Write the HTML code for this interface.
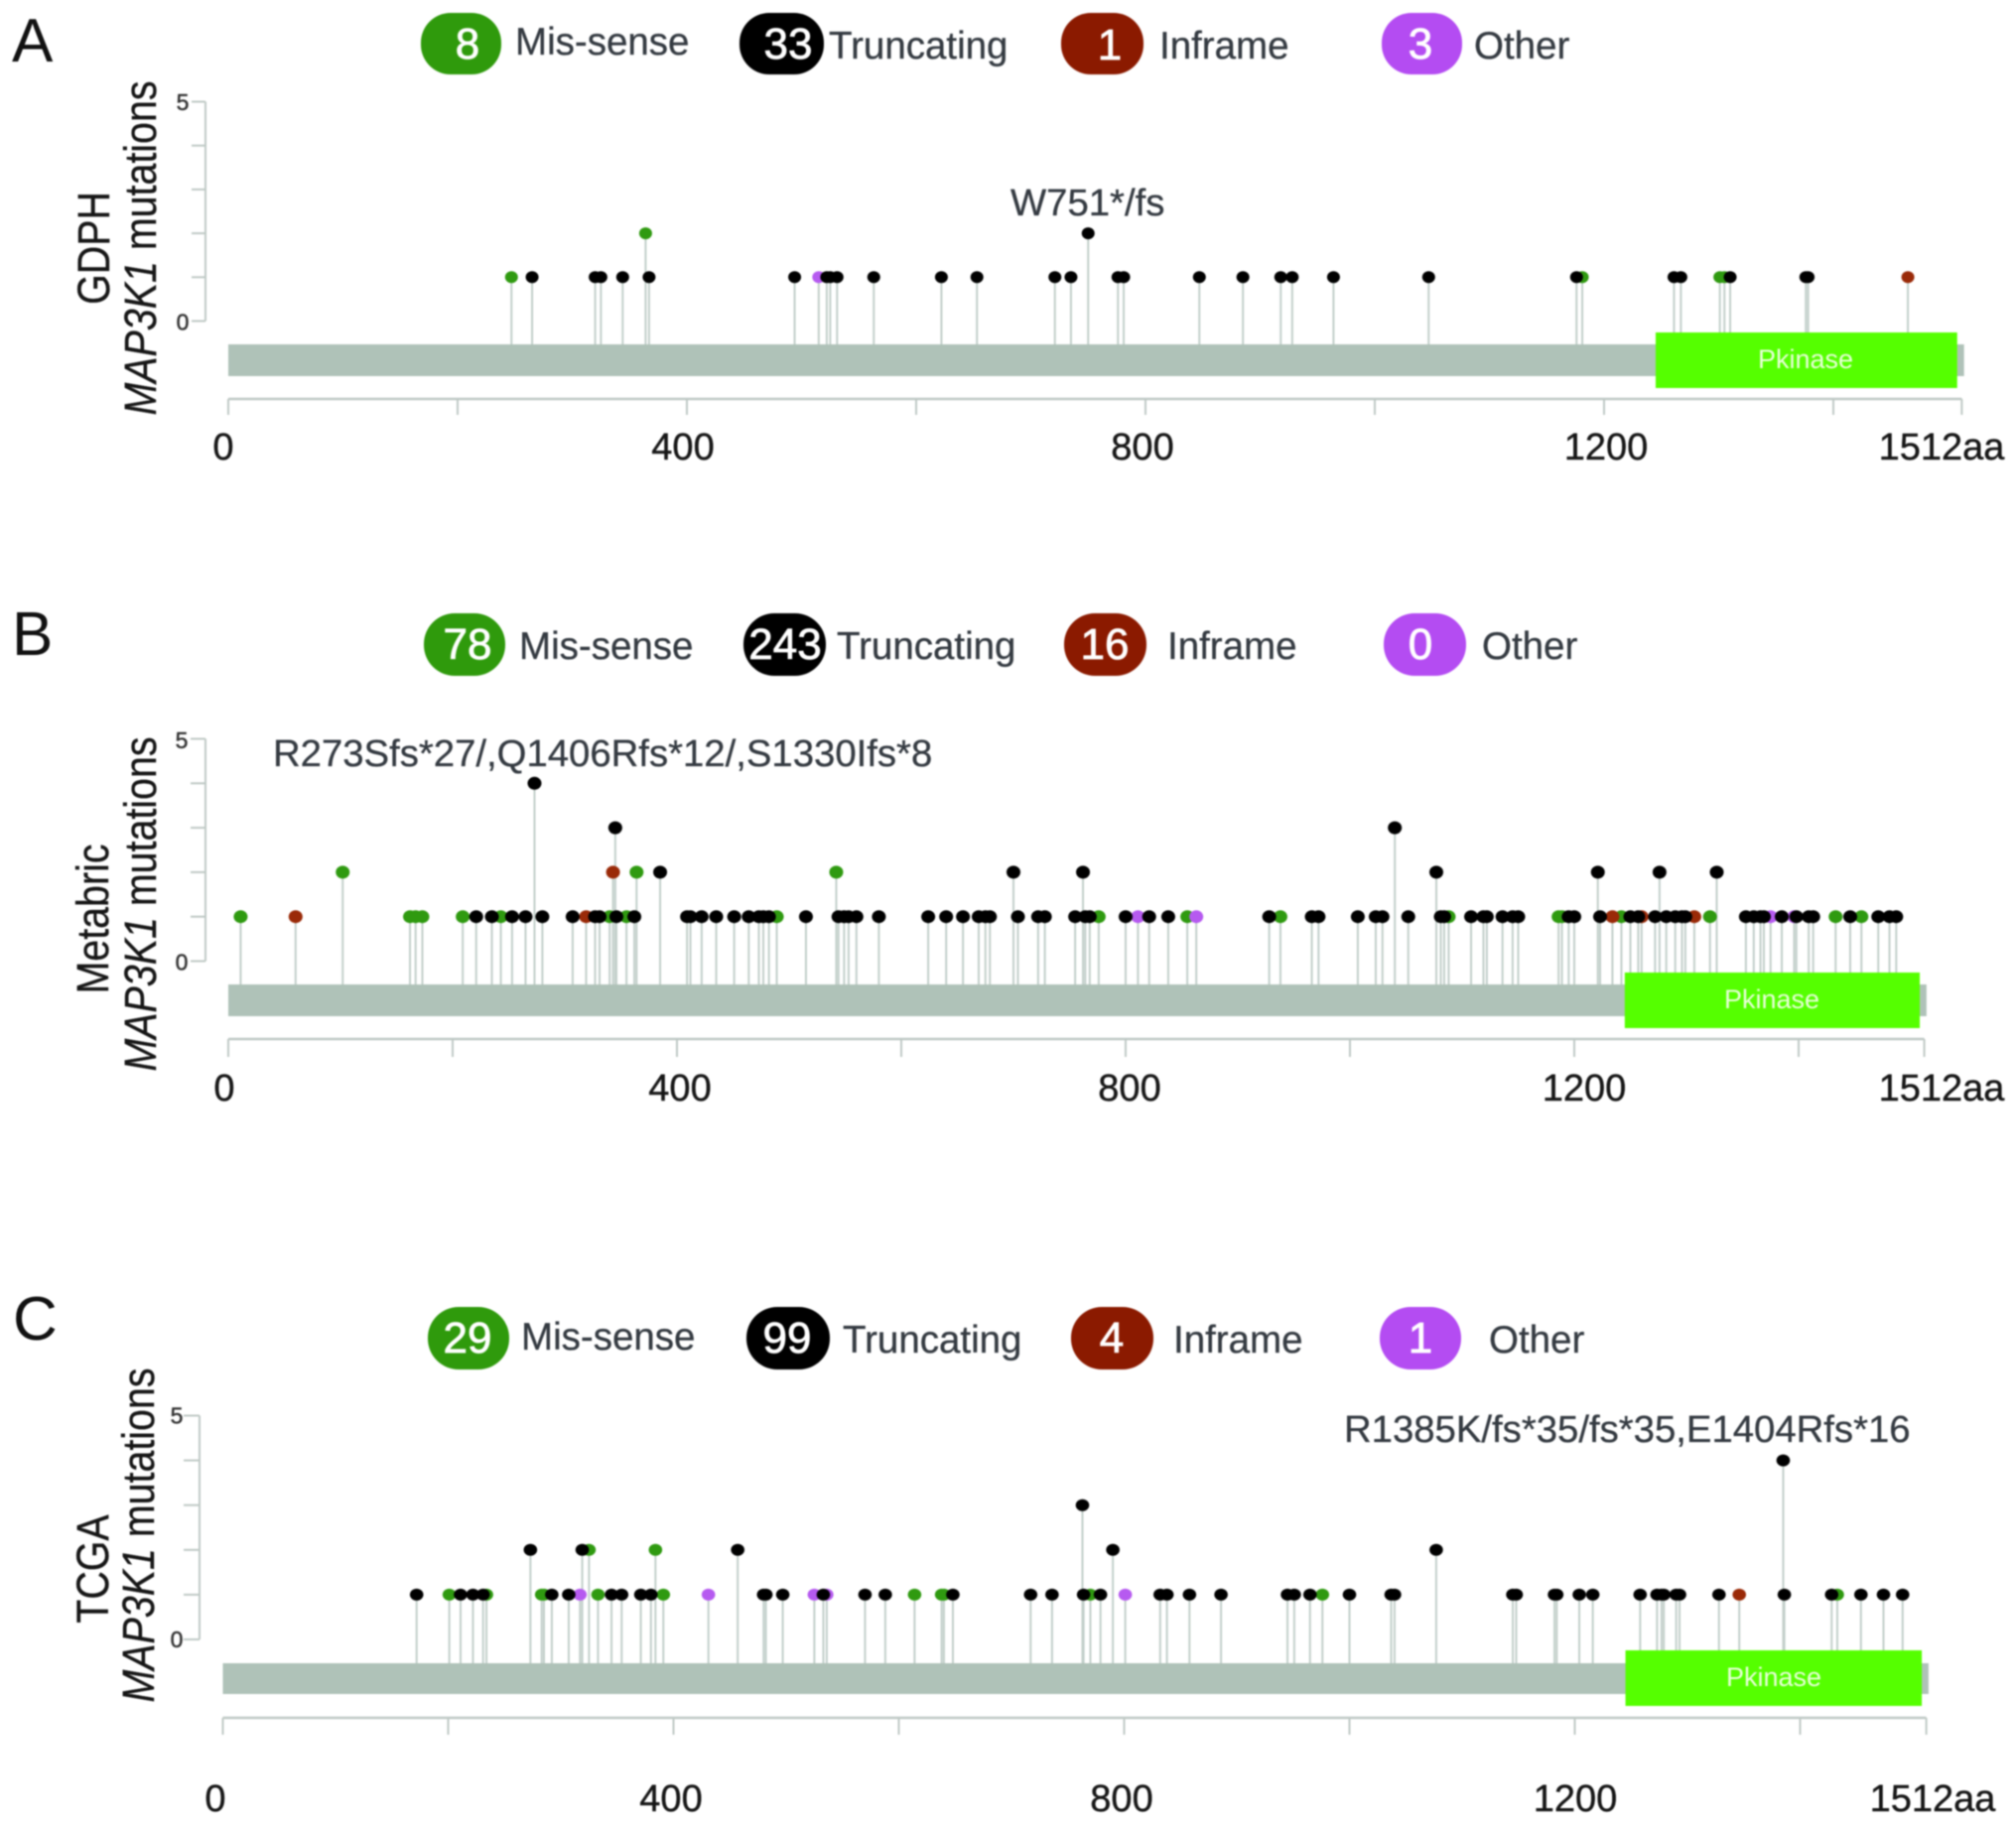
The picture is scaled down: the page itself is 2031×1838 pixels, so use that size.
<!DOCTYPE html>
<html lang="en">
<head>
<meta charset="utf-8">
<title>MAP3K1 mutation lollipop plots</title>
<style>
  html, body { margin: 0; padding: 0; background: #ffffff; }
  svg { display: block; font-family: "Liberation Sans", sans-serif; filter: blur(0.7px); }
  .legend-text { font-size: 38.5px; fill: #343a41; stroke: #343a41; stroke-width: 0.3px; }
  .pill-text { font-size: 44px; fill: #ffffff; text-anchor: middle; stroke: #ffffff; stroke-width: 0.8px; }
  .panel-letter { font-size: 62px; fill: #111111; }
  .y-title { font-size: 39.4px; fill: #161616; text-anchor: middle; stroke: #161616; stroke-width: 0.3px; }
  .y-tick-label { font-size: 23px; fill: #333333; text-anchor: middle; stroke: #333333; stroke-width: 0.5px; }
  .x-tick-label { font-size: 38px; fill: #161616; text-anchor: middle; stroke: #161616; stroke-width: 0.4px; }
  .hot-label { font-size: 38.3px; fill: #343a41; stroke: #343a41; stroke-width: 0.3px; }
  .domain-label { font-size: 27px; fill: #e8ffd8; text-anchor: middle; }
</style>
</head>
<body>
<svg xmlns="http://www.w3.org/2000/svg" width="2031" height="1838" viewBox="0 0 2031 1838">
  <rect width="2031" height="1838" fill="#ffffff"/>

  <!-- Panel A -->
  <g>
    <text class="panel-letter" x="12" y="62">A</text>
    <g>
      <rect x="424" y="13" width="81" height="62" rx="30" ry="30" fill="#2f9a0c"/>
      <text class="pill-text" x="471" y="59">8</text>
      <text class="legend-text" x="519" y="55">Mis-sense</text>
      <rect x="745" y="13" width="85" height="62" rx="30" ry="30" fill="#000000"/>
      <text class="pill-text" x="794" y="59">33</text>
      <text class="legend-text" x="835" y="59">Truncating</text>
      <rect x="1069" y="13" width="83" height="62" rx="30" ry="30" fill="#8b1a00"/>
      <text class="pill-text" x="1118" y="60">1</text>
      <text class="legend-text" x="1168" y="59">Inframe</text>
      <rect x="1392" y="13" width="81" height="62" rx="30" ry="30" fill="#b44cf2"/>
      <text class="pill-text" x="1431" y="59">3</text>
      <text class="legend-text" x="1485" y="59">Other</text>
    </g>
    <text class="y-title" transform="translate(110,250) rotate(-90) scale(1,1.15)">GDPH</text>
    <text class="y-title" transform="translate(157,250) rotate(-90) scale(1,1.15)"><tspan font-style="italic">MAP3K1</tspan> mutations</text>
    <text class="y-tick-label" x="184" y="111">5</text>
    <text class="y-tick-label" x="184" y="332.5">0</text>
    <g id="marks-a"></g>
    <text class="domain-label" x="1819" y="371">Pkinase</text>
    <text class="hot-label" x="1018" y="217">W751*/fs</text>
    <text class="x-tick-label" x="225" y="463">0</text>
    <text class="x-tick-label" x="688" y="463">400</text>
    <text class="x-tick-label" x="1151" y="463">800</text>
    <text class="x-tick-label" x="1618" y="463">1200</text>
    <text class="x-tick-label" x="1956" y="463">1512aa</text>
  </g>

  <!-- Panel B -->
  <g>
    <text class="panel-letter" x="12" y="660">B</text>
    <g>
      <rect x="427" y="618" width="82" height="63" rx="31" ry="31" fill="#2f9a0c"/>
      <text class="pill-text" x="471" y="664">78</text>
      <text class="legend-text" x="523" y="664">Mis-sense</text>
      <rect x="749" y="618" width="83" height="63" rx="31" ry="31" fill="#000000"/>
      <text class="pill-text" x="791" y="664">243</text>
      <text class="legend-text" x="843" y="664">Truncating</text>
      <rect x="1072" y="618" width="83" height="63" rx="31" ry="31" fill="#8b1a00"/>
      <text class="pill-text" x="1113" y="664">16</text>
      <text class="legend-text" x="1176" y="664">Inframe</text>
      <rect x="1394" y="618" width="83" height="63" rx="31" ry="31" fill="#b44cf2"/>
      <text class="pill-text" x="1431" y="664">0</text>
      <text class="legend-text" x="1493" y="664">Other</text>
    </g>
    <text class="y-title" transform="translate(109,926) rotate(-90) scale(1,1.15)">Metabric</text>
    <text class="y-title" transform="translate(157,911) rotate(-90) scale(1,1.15)"><tspan font-style="italic">MAP3K1</tspan> mutations</text>
    <text class="y-tick-label" x="183" y="754">5</text>
    <text class="y-tick-label" x="183" y="977.5">0</text>
    <g id="marks-b"></g>
    <text class="domain-label" x="1785" y="1016">Pkinase</text>
    <text class="hot-label" x="275" y="772">R273Sfs*27/,Q1406Rfs*12/,S1330Ifs*8</text>
    <text class="x-tick-label" x="226" y="1109">0</text>
    <text class="x-tick-label" x="685" y="1109">400</text>
    <text class="x-tick-label" x="1138" y="1109">800</text>
    <text class="x-tick-label" x="1596" y="1109">1200</text>
    <text class="x-tick-label" x="1956" y="1109">1512aa</text>
  </g>

  <!-- Panel C -->
  <g>
    <text class="panel-letter" x="13" y="1350">C</text>
    <g>
      <rect x="431" y="1317" width="82" height="63" rx="31" ry="31" fill="#2f9a0c"/>
      <text class="pill-text" x="471" y="1363">29</text>
      <text class="legend-text" x="525" y="1360">Mis-sense</text>
      <rect x="752" y="1317" width="84" height="63" rx="31" ry="31" fill="#000000"/>
      <text class="pill-text" x="793" y="1363">99</text>
      <text class="legend-text" x="849" y="1363">Truncating</text>
      <rect x="1079" y="1317" width="83" height="63" rx="31" ry="31" fill="#8b1a00"/>
      <text class="pill-text" x="1120" y="1363">4</text>
      <text class="legend-text" x="1182" y="1363">Inframe</text>
      <rect x="1390" y="1317" width="82" height="63" rx="31" ry="31" fill="#b44cf2"/>
      <text class="pill-text" x="1431" y="1363">1</text>
      <text class="legend-text" x="1500" y="1363">Other</text>
    </g>
    <text class="y-title" transform="translate(109,1581) rotate(-90) scale(1,1.15)">TCGA</text>
    <text class="y-title" transform="translate(155,1547) rotate(-90) scale(1,1.15)"><tspan font-style="italic">MAP3K1</tspan> mutations</text>
    <text class="y-tick-label" x="178" y="1434.5">5</text>
    <text class="y-tick-label" x="178" y="1660">0</text>
    <g id="marks-c"></g>
    <text class="domain-label" x="1787" y="1699">Pkinase</text>
    <text class="hot-label" x="1354" y="1453">R1385K/fs*35/fs*35,E1404Rfs*16</text>
    <text class="x-tick-label" x="217" y="1825">0</text>
    <text class="x-tick-label" x="676" y="1825">400</text>
    <text class="x-tick-label" x="1130" y="1825">800</text>
    <text class="x-tick-label" x="1587" y="1825">1200</text>
    <text class="x-tick-label" x="1947" y="1825">1512aa</text>
  </g>
</svg>

<script>
// Shared axis values
const xTicks = [0, 200, 400, 600, 800, 1000, 1200, 1400, 1512];
const yTicks = [0, 1, 2, 3, 4, 5];
const proteinStart = 0;
const proteinEnd = 1514;
const pkinaseStart = 1245;
const pkinaseEnd = 1508;

// GDPH: amino-acid positions and mutation counts per type
const gdphMissensePos = [247,364,1181,1301,1305];
const gdphMissenseCount = [1,2,1,1,1];
const gdphInframePos = [1465];
const gdphInframeCount = [1];
const gdphOtherPos = [515];
const gdphOtherCount = [1];
const gdphTruncatingPos = [265,320,325,344,367,494,522,525,531,563,622,653,721,735,750,776,781,847,885,918,928,964,1047,1176,1261,1267,1310,1376,1378];
const gdphTruncatingCount = [1,1,1,1,1,1,1,1,1,1,1,1,1,1,2,1,1,1,1,1,1,1,1,1,1,1,1,1,1];

// Metabric
const metabricMissensePos = [11,102,162,167,173,209,243,340,355,364,489,542,776,855,938,1088,1186,1189,1242,1321,1433,1456];
const metabricMissenseCount = [1,2,1,1,1,1,1,1,1,2,1,2,1,1,1,1,1,1,1,1,1,1];
const metabricInframePos = [60,319,343,1234,1260,1307];
const metabricInframeCount = [1,1,2,1,1,1];
const metabricOtherPos = [811,863,1375,1396];
const metabricOtherCount = [1,1,1,1];
const metabricTruncatingPos = [221,235,253,265,273,280,307,327,331,345,346,362,385,409,412,422,435,451,464,473,477,482,515,544,549,553,560,580,624,640,655,669,675,679,700,704,722,728,755,762,764,768,800,821,838,928,966,972,1007,1023,1029,1040,1052,1077,1081,1084,1108,1119,1122,1136,1145,1150,1195,1200,1221,1223,1250,1257,1272,1276,1282,1290,1296,1299,1327,1353,1360,1366,1369,1385,1398,1409,1413,1446,1471,1481,1487];
const metabricTruncatingCount = [1,1,1,1,4,1,1,1,1,3,1,1,2,1,1,1,1,1,1,1,1,1,1,1,1,1,1,1,1,1,1,1,1,1,2,1,1,1,1,2,1,1,1,1,1,1,1,1,1,1,1,3,1,2,1,1,1,1,1,1,1,1,1,1,2,1,1,1,1,2,1,1,1,1,2,1,1,1,1,1,1,1,1,1,1,1,1];

// TCGA
const tcgaMissensePos = [201,234,283,285,325,333,384,391,614,638,640,770,976,1433];
const tcgaMissenseCount = [1,1,1,1,2,1,2,1,1,1,1,1,1,1];
const tcgaInframePos = [1346];
const tcgaInframeCount = [1];
const tcgaOtherPos = [317,431,525,536,801];
const tcgaOtherCount = [1,1,1,1,1];
const tcgaTruncatingPos = [172,211,222,231,273,292,307,319,345,354,371,380,457,480,482,497,533,570,588,648,717,736,763,764,779,790,832,838,858,886,945,951,965,1000,1037,1040,1077,1145,1148,1182,1184,1204,1216,1258,1273,1277,1279,1290,1293,1328,1385,1386,1428,1454,1474,1491];
const tcgaTruncatingCount = [1,1,1,1,2,1,1,2,1,1,1,1,2,1,1,1,1,1,1,1,1,1,3,1,1,2,1,1,1,1,1,1,1,1,1,1,2,1,1,1,1,1,1,1,1,1,1,1,1,1,4,1,1,1,1,1];

// Mark styling and panel layout
const typeColors = { missense: "#2f9a10", truncating: "#000000", inframe: "#9a2a08", other: "#b65af0" };

const panels = [
  { target: "marks-a",
    series: [
      { type: "missense", positions: gdphMissensePos, counts: gdphMissenseCount },
      { type: "inframe", positions: gdphInframePos, counts: gdphInframeCount },
      { type: "other", positions: gdphOtherPos, counts: gdphOtherCount },
      { type: "truncating", positions: gdphTruncatingPos, counts: gdphTruncatingCount }
    ],
    x0: 230, xUnit: 1.155, y0: 323.5, yUnit: 44.2, barTop: 347, barBottom: 379, kinaseTop: 335, kinaseBottom: 391,
    axisY: 402, axisTickEnd: 418, yAxisX: 207, yTickEnd: 193, rx: 6.5, ry: 6 },
  { target: "marks-b",
    series: [
      { type: "missense", positions: metabricMissensePos, counts: metabricMissenseCount },
      { type: "inframe", positions: metabricInframePos, counts: metabricInframeCount },
      { type: "other", positions: metabricOtherPos, counts: metabricOtherCount },
      { type: "truncating", positions: metabricTruncatingPos, counts: metabricTruncatingCount }
    ],
    x0: 230, xUnit: 1.13, y0: 968.5, yUnit: 44.8, barTop: 992, barBottom: 1024, kinaseTop: 980, kinaseBottom: 1036,
    axisY: 1047, axisTickEnd: 1065, yAxisX: 207, yTickEnd: 192, rx: 7, ry: 6.5 },
  { target: "marks-c",
    series: [
      { type: "missense", positions: tcgaMissensePos, counts: tcgaMissenseCount },
      { type: "inframe", positions: tcgaInframePos, counts: tcgaInframeCount },
      { type: "other", positions: tcgaOtherPos, counts: tcgaOtherCount },
      { type: "truncating", positions: tcgaTruncatingPos, counts: tcgaTruncatingCount }
    ],
    x0: 224.5, xUnit: 1.135, y0: 1652, yUnit: 45.1, barTop: 1676, barBottom: 1707, kinaseTop: 1663, kinaseBottom: 1719,
    axisY: 1731, axisTickEnd: 1748, yAxisX: 201, yTickEnd: 185, rx: 6.8, ry: 6 }
];

const SVG_NS = "http://www.w3.org/2000/svg";

function shape(parent, tag, attrs) {
  const node = document.createElementNS(SVG_NS, tag);
  Object.keys(attrs).forEach(function (key) { node.setAttribute(key, attrs[key]); });
  parent.appendChild(node);
  return node;
}

function drawPanel(p) {
  const root = document.getElementById(p.target);
  const xAxis = function (aa) { return p.x0 + aa * p.xUnit; };
  const yAxis = function (count) { return p.y0 - count * p.yUnit; };
  const axisColor = "#bfc9c5";

  // y axis
  const yLine = shape(root, "line", { x1: p.yAxisX, x2: p.yAxisX, y1: yAxis(5), y2: yAxis(0), stroke: axisColor, "stroke-width": 2 });
  
  
  yTicks.forEach(function (t) {
    const tick = shape(root, "line", { x1: p.yTickEnd, x2: p.yAxisX, y1: yAxis(t), y2: yAxis(t), stroke: axisColor, "stroke-width": 2 });
    
    
  });

  // x axis
  const xLine = shape(root, "line", { x1: xAxis(0), x2: xAxis(1512), y1: p.axisY, y2: p.axisY, stroke: axisColor, "stroke-width": 2.5 });
  
  
  xTicks.forEach(function (t) {
    const tick = shape(root, "line", { x1: xAxis(t), x2: xAxis(t), y1: p.axisY, y2: p.axisTickEnd, stroke: axisColor, "stroke-width": 2 });
    
    
  });

  // stems
  p.series.forEach(function (s) {
    s.positions.forEach(function (aa, i) {
      const stem = shape(root, "line", { x1: xAxis(aa), x2: xAxis(aa), y1: yAxis(s.counts[i]), y2: p.barTop, stroke: "#c2cfca", "stroke-width": 2 });
      
      
    });
  });

  // protein backbone and kinase domain
  const bar = shape(root, "rect", { x: xAxis(proteinStart), y: p.barTop, width: xAxis(proteinEnd) - xAxis(proteinStart), height: p.barBottom - p.barTop, fill: "#afc2b8" });
  
  
  const kinase = shape(root, "rect", { x: xAxis(pkinaseStart), y: p.kinaseTop, width: xAxis(pkinaseEnd) - xAxis(pkinaseStart), height: p.kinaseBottom - p.kinaseTop, fill: "#55ff00" });
  
  

  // dots
  p.series.forEach(function (s) {
    s.positions.forEach(function (aa, i) {
      const dot = shape(root, "ellipse", { cx: xAxis(aa), cy: yAxis(s.counts[i]), rx: p.rx, ry: p.ry, fill: typeColors[s.type] });
      
      
    });
  });
}

panels.forEach(drawPanel);
</script>
</body>
</html>
